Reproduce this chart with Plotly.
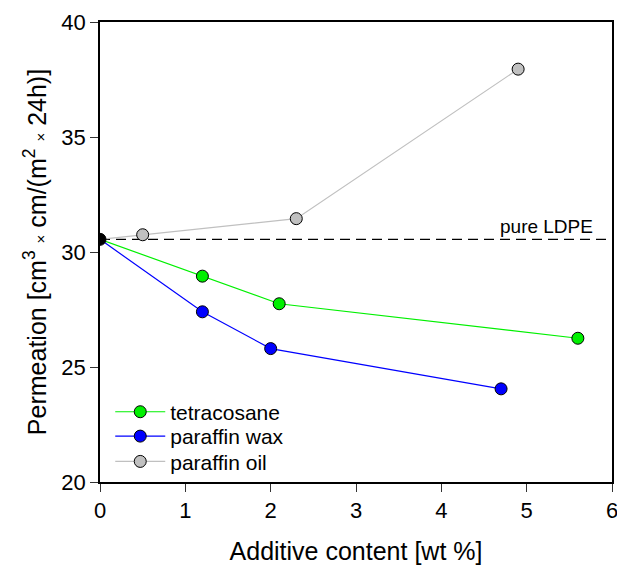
import plotly.graph_objects as go

# Data
pure_ldpe = 30.55
tetra_x = [0, 1.2, 2.1, 5.6]
tetra_y = [30.55, 28.95, 27.75, 26.25]
wax_x = [0, 1.2, 2.0, 4.7]
wax_y = [30.55, 27.4, 25.8, 24.05]
oil_x = [0, 0.5, 2.3, 4.9]
oil_y = [30.55, 30.75, 31.45, 37.95]
series_names = ["tetracosane", "paraffin wax", "paraffin oil"]

FONT = "Liberation Sans, Arial, sans-serif"
GREEN, BLUE, GRAY = "#00f000", "#0000ff", "#c0c0c0"

fig = go.Figure()

# pure LDPE dashed reference line
fig.add_trace(go.Scatter(x=[0, 6], y=[pure_ldpe, pure_ldpe], mode="lines",
                         line=dict(color="black", width=1.2, dash="10px,6px"),
                         showlegend=False, hoverinfo="skip"))

for x, y, c in [(tetra_x, tetra_y, GREEN), (wax_x, wax_y, BLUE), (oil_x, oil_y, GRAY)]:
    fig.add_trace(go.Scatter(x=x, y=y, mode="lines", line=dict(color=c, width=1.2), showlegend=False))

for x, y, c in [(tetra_x, tetra_y, GREEN), (wax_x, wax_y, BLUE), (oil_x, oil_y, GRAY)]:
    fig.add_trace(go.Scatter(x=x[1:], y=y[1:], mode="markers", showlegend=False,
                             marker=dict(size=12, color=c, line=dict(color="black", width=1))))

# legend entries (line + marker), one legend per row for tight spacing
legend_ids = ["legend", "legend2", "legend3"]
for name, color, lid in zip(series_names, [GREEN, BLUE, GRAY], legend_ids):
    fig.add_trace(go.Scatter(x=[None], y=[None], mode="lines+markers", name=name, legend=lid,
                             line=dict(color=color, width=1.2),
                             marker=dict(size=12, color=color, line=dict(color="black", width=1))))

# common origin point
fig.add_trace(go.Scatter(x=[0], y=[pure_ldpe], mode="markers", showlegend=False,
                         marker=dict(size=12, color="black", line=dict(color="black", width=1))))

fig.add_annotation(x=5.8, y=pure_ldpe, xref="x", yref="y", text="pure LDPE",
                   showarrow=False, xanchor="right", yanchor="bottom", yshift=0,
                   font=dict(family=FONT, size=19, color="black"))

legend_common = dict(x=0.02, xanchor="left", yanchor="middle",
                     font=dict(family=FONT, size=21), bgcolor="rgba(0,0,0,0)", itemwidth=50)
row_y = [0.152, 0.099, 0.044]

fig.update_layout(
    width=617, height=565,
    margin=dict(l=100, r=5, t=22, b=83),
    paper_bgcolor="white", plot_bgcolor="white",
    font=dict(family=FONT, color="black"),
    legend=dict(y=row_y[0], **legend_common),
    legend2=dict(y=row_y[1], **legend_common),
    legend3=dict(y=row_y[2], **legend_common),
    xaxis=dict(range=[0, 6], tickvals=[0, 1, 2, 3, 4, 5, 6], ticks="outside", ticklen=8,
               tickcolor="#333", showline=True, linecolor="black", linewidth=1.5, mirror=True,
               showgrid=False, zeroline=False, tickfont=dict(size=22), automargin=False,
               ticklabeloverflow="allow",
               title=dict(text="Additive content [wt %]", font=dict(size=25), standoff=23)),
    yaxis=dict(range=[20, 40], tickvals=[20, 25, 30, 35, 40], ticks="outside", ticklen=8,
               tickcolor="#333", showline=True, linecolor="black", linewidth=1.5, mirror=True,
               showgrid=False, zeroline=False, tickfont=dict(size=22), automargin=False,
               ticklabeloverflow="allow",
               title=dict(text="Permeation [cm<sup>3</sup> <span style='font-size:15px'>×</span> cm/(m<sup>2</sup> <span style='font-size:15px'>×</span> 24h)]",
                          font=dict(size=25), standoff=8)),
)

fig.write_html("out.html")
